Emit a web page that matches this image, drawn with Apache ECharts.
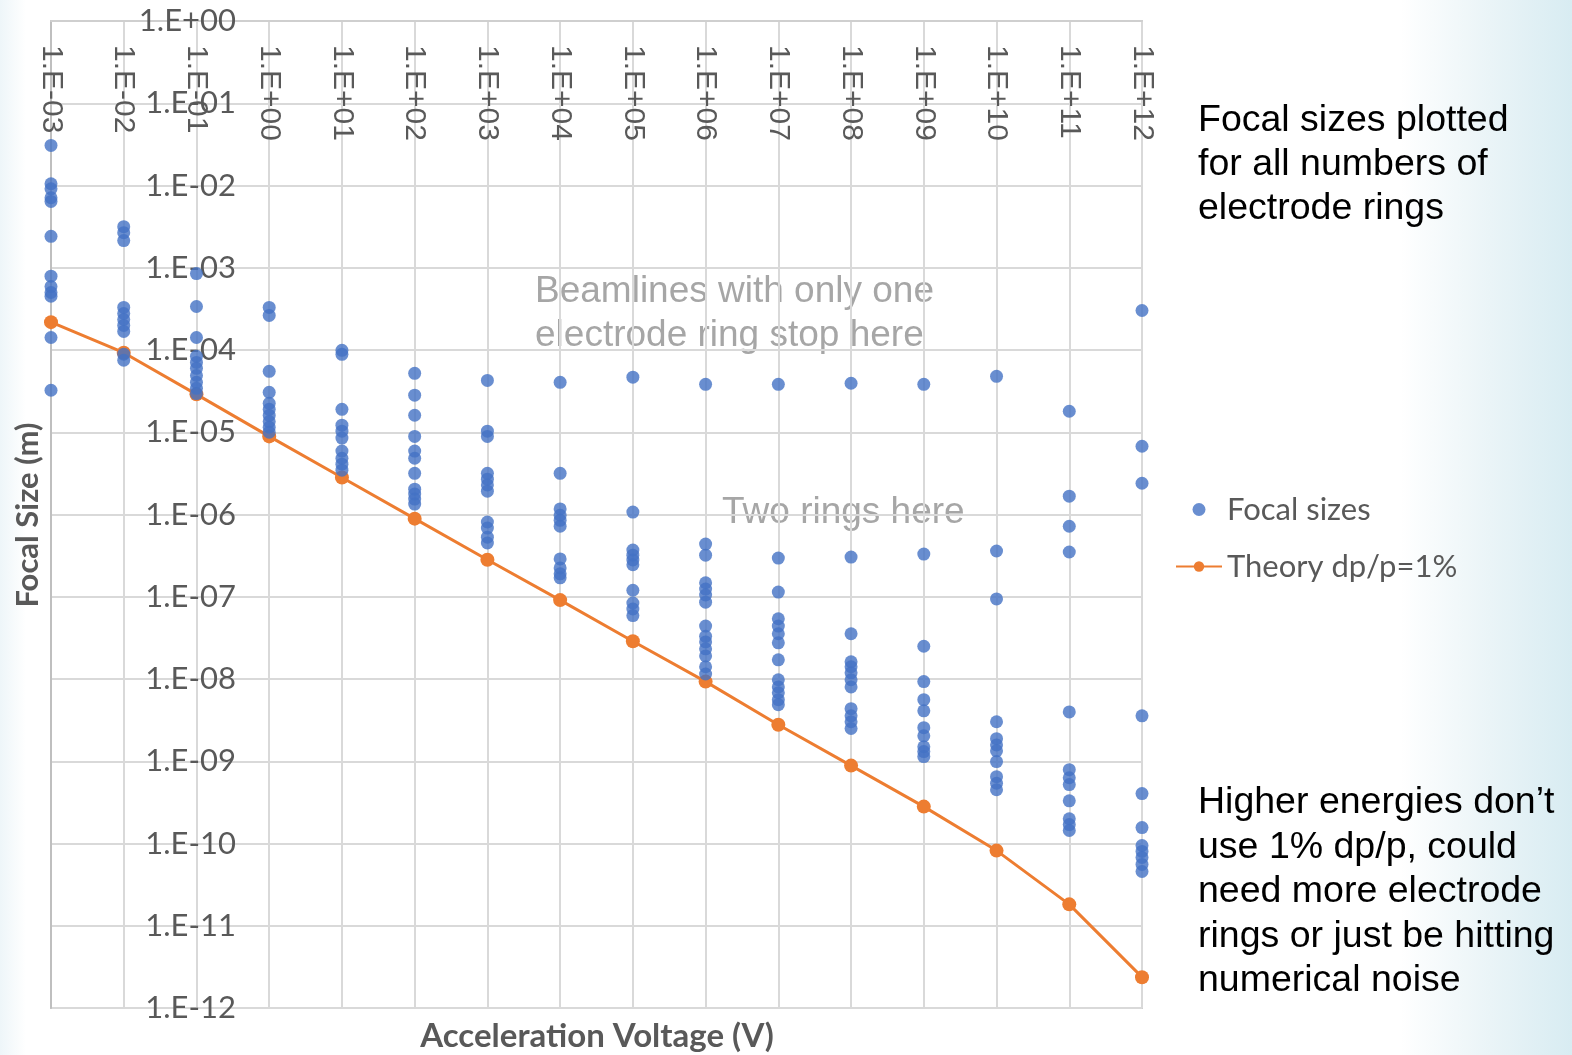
<!DOCTYPE html>
<html><head><meta charset="utf-8">
<style>
html,body{margin:0;padding:0;width:1572px;height:1055px;overflow:hidden;
background:linear-gradient(to right,#eef6f9 0px,#ffffff 26px,#ffffff 1400px,#eaf4f7 1490px,#d8ecf2 1572px);}
#chart{width:1572px;height:1055px;}
</style>
<script src="https://cdn.jsdelivr.net/npm/echarts@6/dist/echarts.min.js"></script>
</head><body><div id="chart"></div>
<script>
// Acceleration voltages (V), one column of points per decade
const voltages = [1e-3,1e-2,1e-1,1e0,1e1,1e2,1e3,1e4,1e5,1e6,1e7,1e8,1e9,1e10,1e11,1e12];
const xTickLabels = ['1.E-03','1.E-02','1.E-01','1.E+00','1.E+01','1.E+02','1.E+03','1.E+04','1.E+05','1.E+06','1.E+07','1.E+08','1.E+09','1.E+10','1.E+11','1.E+12'];
const yTickLabels = ['1.E-12','1.E-11','1.E-10','1.E-09','1.E-08','1.E-07','1.E-06','1.E-05','1.E-04','1.E-03','1.E-02','1.E-01','1.E+00'];

// Focal sizes (m) at each voltage
const focalAt_1e_3 = [3.07e-2,1.05e-2,9.1e-3,7.1e-3,6.4e-3,2.41e-3,7.9e-4,5.9e-4,5.0e-4,4.5e-4,1.42e-4,3.24e-5];
const focalAt_1e_2 = [3.16e-3,2.67e-3,2.14e-3,3.29e-4,2.78e-4,2.35e-4,1.99e-4,1.68e-4,8.9e-5,7.5e-5];
const focalAt_1e_1 = [8.5e-4,3.38e-4,1.42e-4,8.4e-5,7.07e-5,5.98e-5,4.9e-5,4.05e-5,3.42e-5,2.95e-5];
const focalAt_1e0  = [3.29e-4,2.63e-4,5.5e-5,3.06e-5,2.25e-5,1.9e-5,1.6e-5,1.35e-5,1.15e-5,1.0e-5];
const focalAt_1e1  = [9.9e-5,8.85e-5,1.9e-5,1.22e-5,1.03e-5,8.5e-6,5.9e-6,4.83e-6,4.09e-6,3.46e-6];
const focalAt_1e2  = [5.2e-5,2.82e-5,1.61e-5,8.9e-6,5.9e-6,4.83e-6,3.17e-6,2.03e-6,1.77e-6,1.54e-6,1.34e-6];
const focalAt_1e3  = [4.27e-5,1.03e-5,8.9e-6,3.17e-6,2.69e-6,2.29e-6,1.92e-6,8.1e-7,6.84e-7,5.3e-7,4.5e-7];
const focalAt_1e4  = [4.05e-5,3.17e-6,1.17e-6,9.8e-7,8.5e-7,7.2e-7,2.88e-7,2.24e-7,1.9e-7,1.7e-7];
const focalAt_1e5  = [4.67e-5,1.07e-6,3.7e-7,3.2e-7,2.8e-7,2.45e-7,1.2e-7,8.4e-8,7.1e-8,5.9e-8];
const focalAt_1e6  = [3.83e-5,4.37e-7,3.2e-7,1.48e-7,1.24e-7,1.05e-7,8.6e-8,4.4e-8,3.3e-8,2.82e-8,2.33e-8,1.91e-8,1.41e-8,1.15e-8];
const focalAt_1e7  = [3.83e-5,2.95e-7,1.14e-7,5.4e-8,4.4e-8,3.55e-8,2.75e-8,1.71e-8,9.8e-9,8.0e-9,6.8e-9,5.6e-9,4.87e-9];
const focalAt_1e8  = [3.94e-5,3.04e-7,3.55e-8,1.62e-8,1.41e-8,1.19e-8,9.8e-9,8.0e-9,4.36e-9,3.57e-9,3.02e-9,2.5e-9];
const focalAt_1e9  = [3.83e-5,3.3e-7,2.5e-8,9.3e-9,5.6e-9,4.1e-9,2.56e-9,2.04e-9,1.5e-9,1.31e-9,1.14e-9];
const focalAt_1e10 = [4.78e-5,3.6e-7,9.4e-8,3.02e-9,1.88e-9,1.58e-9,1.34e-9,9.9e-10,6.5e-10,5.4e-10,4.5e-10];
const focalAt_1e11 = [1.8e-5,1.67e-6,7.2e-7,3.5e-7,3.98e-9,7.9e-10,6.3e-10,5.2e-10,3.3e-10,2.0e-10,1.7e-10,1.44e-10];
const focalAt_1e12 = [3.02e-4,6.76e-6,2.4e-6,3.57e-9,4.05e-10,1.56e-10,9.46e-11,8.0e-11,6.76e-11,5.56e-11,4.57e-11];

// Theory dp/p = 1%
const theory = [2.18e-4,9.27e-5,2.89e-5,8.9e-6,2.82e-6,8.9e-7,2.82e-7,9.1e-8,2.88e-8,9.3e-9,2.78e-9,8.85e-10,2.81e-10,8.2e-11,1.82e-11,2.37e-12];

const focalColumns = [focalAt_1e_3,focalAt_1e_2,focalAt_1e_1,focalAt_1e0,focalAt_1e1,focalAt_1e2,focalAt_1e3,focalAt_1e4,focalAt_1e5,focalAt_1e6,focalAt_1e7,focalAt_1e8,focalAt_1e9,focalAt_1e10,focalAt_1e11,focalAt_1e12];

const scatterData = [];
focalColumns.forEach((col, i) => col.forEach(v => scatterData.push([voltages[i], v])));
const theoryData = voltages.map((v, i) => [v, theory[i]]);

function expOf(v){ return Math.round(Math.log10(v)); }
function xLabel(v){ return xTickLabels[expOf(v) + 3] || ''; }
function yLabel(v){ return yTickLabels[expOf(v) + 12] || ''; }

const chart = echarts.init(document.getElementById('chart'), null, {renderer:'canvas'});
const gridColor = '#d9d9d9';
const txt = (text, x, y, opts, rot) => ({type:'text', x:x, y:y, rotation:rot||0, silent:true,
  style:Object.assign({text:text, fill:'#000', fontFamily:'Liberation Sans, Arial', fontSize:37, align:'left', verticalAlign:'middle'}, opts||{})});

chart.setOption({
  animation:false,
  backgroundColor:'transparent',
  grid:{left:51, right:430, top:21, bottom:47, show:true, backgroundColor:'#ffffff', borderColor:'#cfcfcf', borderWidth:2},
  xAxis:{type:'log', logBase:10, min:1e-3, max:1e12, interval:1, position:'top',
    axisLine:{show:true, lineStyle:{color:'#cfcfcf', width:2}},
    axisTick:{show:false},
    splitLine:{show:true, lineStyle:{color:gridColor, width:2}},
    axisLabel:{inside:true, rotate:90, margin:24, showMinLabel:true, showMaxLabel:true,
      fontFamily:'Liberation Sans, Arial', fontSize:30, color:'#595959', formatter:xLabel}},
  yAxis:{type:'log', logBase:10, min:1e-12, max:1, interval:1, position:'left',
    axisLine:{show:true, lineStyle:{color:'#bfbfbf', width:2}},
    axisTick:{show:false},
    splitLine:{show:true, lineStyle:{color:gridColor, width:2}},
    axisLabel:{margin:-185, showMinLabel:true, showMaxLabel:true,
      fontFamily:'Lato', fontSize:31, color:'#595959', formatter:yLabel}},
  legend:{orient:'vertical', left:1175, top:494, padding:0, itemWidth:46, itemHeight:13, itemGap:26,
    textStyle:{fontFamily:'Lato', fontSize:31, color:'#595959'},
    data:[{name:'Focal sizes', icon:'circle'}, {name:'Theory dp/p=1%'}]},
  series:[
    {name:'Theory dp/p=1%', type:'line', data:theoryData, symbol:'circle', symbolSize:14, z:2,
      lineStyle:{color:'#ed7d31', width:3}, itemStyle:{color:'#ed7d31'}},
    {name:'Focal sizes', type:'scatter', data:scatterData, symbol:'circle', symbolSize:13, z:3,
      itemStyle:{color:'#4472c4'}}
  ],
  graphic:[
    txt('Focal Size (m)', 28, 515, {fill:'#595959', fontFamily:'Lato', fontWeight:'bold', fontSize:31, align:'center'}, Math.PI/2),
    txt('Acceleration Voltage (V)', 597, 1036, {fill:'#595959', fontFamily:'Lato', fontWeight:'bold', fontSize:33, align:'center'}),
    txt('Beamlines with only one', 535, 292, {fill:'#a6a6a6'}),
    txt('electrode ring stop here', 535, 336, {fill:'#a6a6a6'}),
    txt('Two rings here', 722, 513, {fill:'#a6a6a6'}),
    txt('Focal sizes plotted', 1198, 121, {fontSize:37.5}),
    txt('for all numbers of', 1198, 165, {fontSize:37.5}),
    txt('electrode rings', 1198, 209, {fontSize:37.5}),
    txt('Higher energies don\u2019t', 1198, 803, {fontSize:37.5}),
    txt('use 1% dp/p, could', 1198, 848, {fontSize:37.5}),
    txt('need more electrode', 1198, 892, {fontSize:37.5}),
    txt('rings or just be hitting', 1198, 937, {fontSize:37.5}),
    txt('numerical noise', 1198, 981, {fontSize:37.5})
  ]
});
</script></body></html>
